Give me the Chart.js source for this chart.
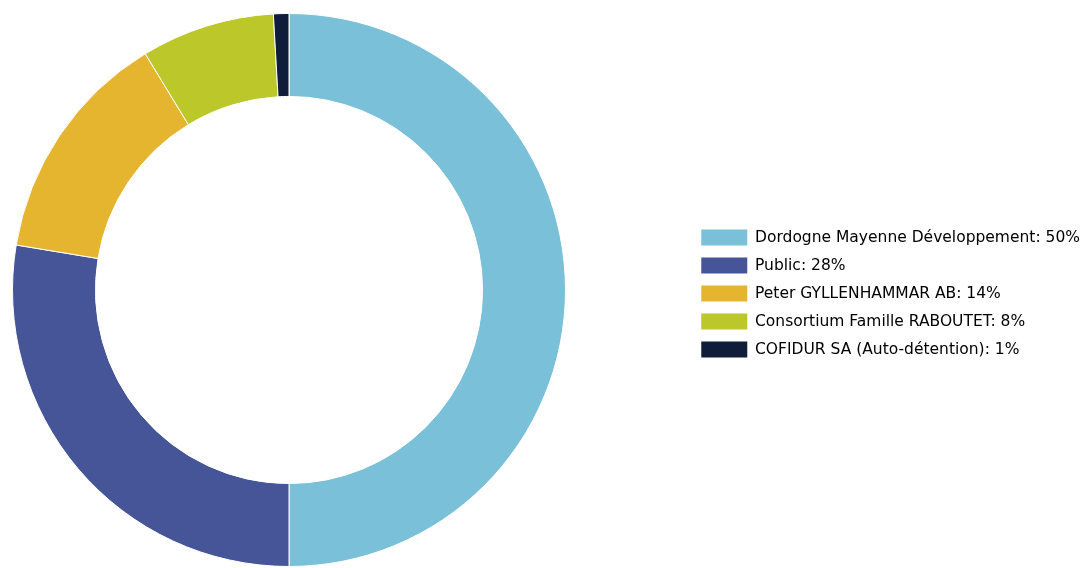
<!DOCTYPE html>
<html>
<head>
<meta charset="utf-8">
<script src="https://cdn.jsdelivr.net/npm/chart.js@4/dist/chart.umd.min.js"></script>
<style>
  html, body { margin:0; padding:0; background:#fff; }
  #wrap { width:1084px; height:568px; }
</style>
</head>
<body>
<div id="wrap"><canvas id="pieShare"></canvas></div>
<script>
const labels = ['Dordogne Mayenne Développement', 'Public', 'Peter GYLLENHAMMAR AB', 'Consortium Famille RABOUTET', 'COFIDUR SA (Auto-détention)'];
const shares = [50.0, 27.6, 13.7, 7.8, 0.9];
const colors = ['#7bc0d9', '#465597', '#e6b530', '#bcc72a', '#0f1d3b'];

// keep the ring on the left, away from the legend
const ringArea = {
  id: 'ringArea',
  afterLayout(chart){
    const a = chart.chartArea;
    a.left = 12; a.right = 566; a.width = a.right - a.left;
    a.top = 13; a.bottom = 567; a.height = a.bottom - a.top;
  }
};

const ctx = document.getElementById('pieShare').getContext('2d');
window.pieChart = new Chart(ctx, {
  type: 'doughnut',
  data: { labels: labels, datasets: [{ data: shares, backgroundColor: colors, borderColor: '#ffffff', borderWidth: 1 }] },
  options: {
    responsive: true,
    maintainAspectRatio: false,
    animation: false,
    cutout: '70%',
    layout: { padding: { top: 19, bottom: 0, left: 0, right: -6 } },
    plugins: {
      tooltip: { enabled: false },
      legend: {
        position: 'right',
        labels: {
          boxWidth: 46,
          boxHeight: 16,
          padding: 12,
          color: '#3a3a3a',
          font: { family: 'DejaVu Sans', size: 15.5 },
          generateLabels: chart => labels.map((l, i) => ({
            text: l + ': ' + Math.round(shares[i]) + '%',
            fillStyle: colors[i],
            strokeStyle: colors[i],
            lineWidth: 0,
            index: i
          }))
        }
      }
    }
  },
  plugins: [ringArea]
});
</script>
</body>
</html>
